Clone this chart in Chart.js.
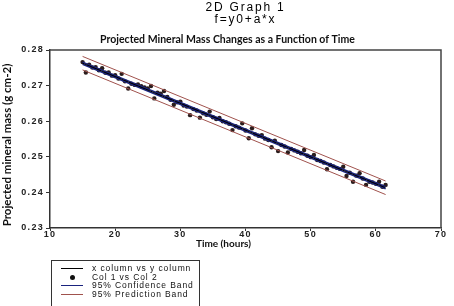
<!DOCTYPE html>
<html>
<head>
<meta charset="utf-8">
<script src="https://cdn.jsdelivr.net/npm/chart.js@4/dist/chart.umd.min.js"></script>
<style>
  body { margin: 0; background: #fff; }
  #wrap { position: relative; width: 454px; height: 306px; }
  #legend {
    position: absolute; left: 51px; top: 260px; width: 147px; height: 42px;
    border: 1px solid #333; padding-top: 3px; box-sizing: content-box;
    font: 8.5px "Liberation Sans", Arial, sans-serif; letter-spacing: 0.9px; color: #111;
  }
  #legend .row { position: relative; height: 8.7px; line-height: 8.7px; padding-left: 40px; white-space: nowrap; }
  #legend .ln { position: absolute; left: 9px; top: 4px; width: 22px; height: 1px; }
  #legend .dot { position: absolute; left: 18px; top: 2px; width: 5px; height: 5px; border-radius: 50%; background: #111; }
</style>
</head>
<body>
<div id="wrap">
  <canvas id="chart" width="454" height="306"></canvas>
  <div id="legend">
    <div class="row"><span class="ln" style="background:#000"></span>x column vs y column</div>
    <div class="row"><span class="dot"></span>Col 1 vs Col 2</div>
    <div class="row"><span class="ln" style="background:#1a237e"></span>95% Confidence Band</div>
    <div class="row"><span class="ln" style="background:#a0524d"></span>95% Prediction Band</div>
  </div>
</div>
<script>
// measured points (Col 1 = time, Col 2 = mass)
const times = [15, 15.5, 16, 16.5, 17, 17.5, 18, 18.5, 19, 19.5,
  20, 20.5, 21, 21.5, 22, 22.5, 23, 23.5, 24, 24.5,
  25, 25.5, 26, 26.5, 27, 27.5, 28, 28.5, 29, 29.5,
  30, 30.5, 31, 31.5, 32, 32.5, 33, 33.5, 34, 34.5,
  35, 35.5, 36, 36.5, 37, 37.5, 38, 38.5, 39, 39.5,
  40, 40.5, 41, 41.5, 42, 42.5, 43, 43.5, 44, 44.5,
  45, 45.5, 46, 46.5, 47, 47.5, 48, 48.5, 49, 49.5,
  50, 50.5, 51, 51.5, 52, 52.5, 53, 53.5, 54, 54.5,
  55, 55.5, 56, 56.5, 57, 57.5, 58, 58.5, 59, 59.5,
  60, 60.5, 61, 61.5]
const mass = [0.2766, 0.2737, 0.2759, 0.2751, 0.2752, 0.2743, 0.2749, 0.2736, 0.2737, 0.2728,
  0.2729, 0.2720, 0.2733, 0.2712, 0.2692, 0.2705, 0.2702, 0.2703, 0.2698, 0.2695,
  0.2692, 0.2699, 0.2664, 0.2680, 0.2677, 0.2685, 0.2668, 0.2660, 0.2646, 0.2653,
  0.2655, 0.2644, 0.2641, 0.2617, 0.2634, 0.2630, 0.2610, 0.2622, 0.2618, 0.2627,
  0.2611, 0.2606, 0.2609, 0.2600, 0.2597, 0.2593, 0.2575, 0.2586, 0.2582, 0.2594,
  0.2574, 0.2552, 0.2580, 0.2563, 0.2559, 0.2561, 0.2551, 0.2547, 0.2527, 0.2545,
  0.2516, 0.2533, 0.2529, 0.2512, 0.2522, 0.2518, 0.2514, 0.2510, 0.2519, 0.2503,
  0.2499, 0.2505, 0.2491, 0.2488, 0.2484, 0.2465, 0.2477, 0.2473, 0.2469, 0.2466,
  0.2472, 0.2446, 0.2455, 0.2430, 0.2447, 0.2454, 0.2439, 0.2421, 0.2430, 0.2428,
  0.2424, 0.2430, 0.2416, 0.2421]

// fit line f=y0+a*x and bands, at both ends of the data
const fitX = [15, 61.5]
const fitY = [0.2763, 0.2413]
const confUpper = [0.2766, 0.2416]
const confLower = [0.2760, 0.2410]
const predUpper = [0.2782, 0.2432]
const predLower = [0.2744, 0.2394]

const xTicks = [10, 20, 30, 40, 50, 60, 70]
const yTicks = [0.23, 0.24, 0.25, 0.26, 0.27, 0.28]

const pts = (xs, ys) => xs.map((x, i) => ({x: x, y: ys[i]}))

const lineSet = (ys, color, width, order) => ({
  type: 'line', data: pts(fitX, ys), borderColor: color, borderWidth: width,
  pointRadius: 0, fill: false, order: order
})

// letter spaced text like the old SigmaPlot export
const wrapDraw = (obj, name, spacing, dx, dy) => {
  if (!obj || obj['_w' + name]) return
  const orig = obj[name].bind(obj)
  obj[name] = (area) => {
    const ctx = obj.ctx
    ctx.save()
    ctx.letterSpacing = spacing
    ctx.translate(dx || 0, dy || 0)
    orig(area)
    ctx.restore()
  }
  obj['_w' + name] = true
}

const textTweaks = {
  id: 'textTweaks',
  afterLayout(chart) {
    wrapDraw(chart.scales.x, 'drawLabels', '1.3px')
    wrapDraw(chart.scales.y, 'drawLabels', '1.3px')
    wrapDraw(chart.scales.x, 'drawTitle', '0px', -22, 0)
    wrapDraw(chart.scales.y, 'drawTitle', '0px', 0, 6)
    wrapDraw(chart.titleBlock, 'draw', '1.8px')
  }
}

const frame = {
  id: 'frame',
  afterDatasetsDraw(chart) {
    const {ctx, chartArea: a} = chart
    ctx.save()
    ctx.strokeStyle = '#444'
    ctx.lineWidth = 1.5
    ctx.beginPath()
    ctx.moveTo(a.left, a.top)
    ctx.lineTo(a.right, a.top)
    ctx.lineTo(a.right, a.bottom)
    ctx.stroke()
    ctx.restore()
  }
}

const ctx = document.querySelector('#chart')
const chart = new Chart(ctx, {
  type: 'scatter',
  data: {
    datasets: [
      lineSet(fitY, '#000', 1, 0),
      lineSet(confUpper, '#1a237e', 1.5, 1),
      lineSet(confLower, '#1a237e', 1.5, 1),
      lineSet(predUpper, '#a0524d', 1, 2),
      lineSet(predLower, '#a0524d', 1, 2),
      {
        label: 'Col 1 vs Col 2', data: pts(times, mass), order: 3,
        pointRadius: 2.2, pointBackgroundColor: '#2b1d1d', pointBorderWidth: 0
      }
    ]
  },
  options: {
    responsive: false,
    animation: false,
    layout: {padding: {left: 14, right: 13, top: 0, bottom: 56}},
    plugins: {
      legend: {display: false},
      tooltip: {enabled: false},
      title: {
        display: true, fullSize: false,
        text: ['2D Graph 1', 'f=y0+a*x'],
        color: '#000',
        font: {family: '"Liberation Sans", Arial, sans-serif', size: 12, weight: 'normal', lineHeight: 1},
        padding: {top: 2, bottom: 4}
      },
      subtitle: {
        display: true,
        text: 'Projected Mineral Mass Changes as a Function of Time',
        color: '#111',
        font: {family: 'Lato, sans-serif', size: 10.5, weight: 'bold', lineHeight: 12 / 10.5},
        padding: {top: 4, bottom: 4}
      }
    },
    scales: {
      x: {
        type: 'linear', min: 10, max: 70,
        afterFit: s => { s.height = 22 },
        afterBuildTicks: s => { s.ticks = xTicks.map(v => ({value: v})) },
        grid: {drawOnChartArea: false, drawTicks: true, tickLength: 3, color: '#333'},
        border: {color: '#333', width: 1.5},
        ticks: {color: '#222', padding: -1.5, font: {family: '"Liberation Sans", Arial, sans-serif', size: 9, weight: 'bold'}},
        title: {
          display: true, text: 'Time (hours)', color: '#111',
          font: {family: 'Lato, sans-serif', size: 10, weight: 'bold'}, padding: {top: 0, bottom: 0}
        }
      },
      y: {
        type: 'linear', min: 0.23, max: 0.28,
        afterFit: s => { s.width = 36 },
        afterBuildTicks: s => { s.ticks = yTicks.map(v => ({value: v})) },
        grid: {drawOnChartArea: false, drawTicks: true, tickLength: 4, color: '#333'},
        border: {color: '#333', width: 1.5},
        ticks: {
          color: '#222', padding: 2,
          font: {family: '"Liberation Sans", Arial, sans-serif', size: 9, weight: 'bold'},
          callback: v => v.toFixed(2)
        },
        title: {
          display: true, text: 'Projected mineral mass (g cm-2)', color: '#111',
          font: {family: 'Lato, sans-serif', size: 11.5, weight: 'bold'}, padding: {top: -13.4, bottom: 0}
        }
      }
    }
  },
  plugins: [textTweaks, frame]
})
</script>
</body>
</html>
